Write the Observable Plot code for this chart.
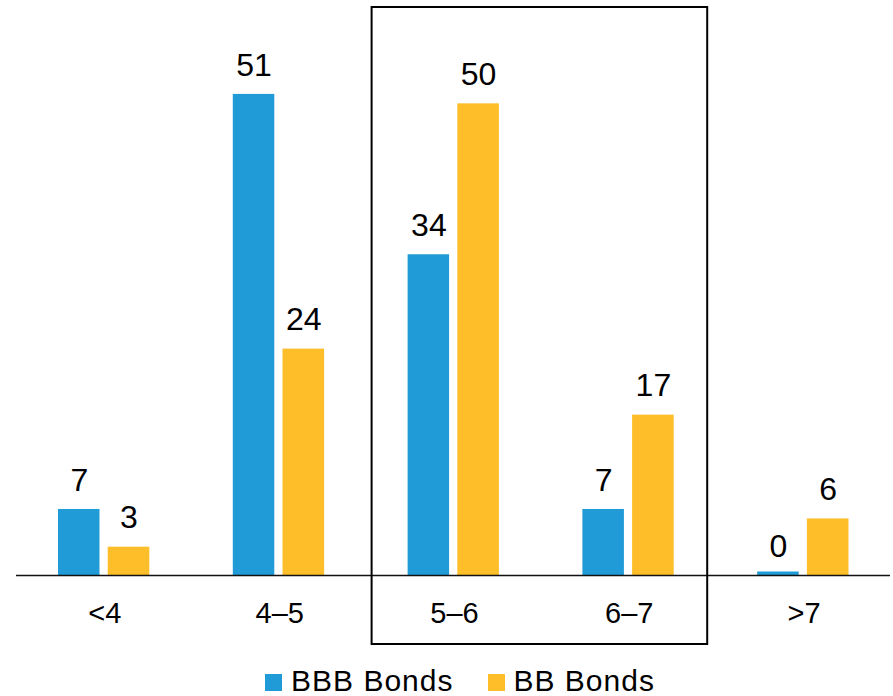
<!DOCTYPE html>
<html><head><meta charset="utf-8">
<script src="https://cdn.jsdelivr.net/npm/d3@7"></script>
<script src="https://cdn.jsdelivr.net/npm/@observablehq/plot@0.6"></script>
<style>
html,body{margin:0;padding:0;background:#fff;overflow:hidden;}
#chart svg{display:block}
.legend{display:flex;justify-content:center;padding-left:27px;gap:34px;font-family:'Liberation Sans',Arial,sans-serif;font-size:30px;letter-spacing:1px;line-height:41px;height:41px;padding-top:5px;color:#000;}
.legend .sw{display:inline-block;width:17px;height:17px;margin-right:9px;}
</style></head><body>
<div id="chart"></div>
<script>
const categories = ["<4", "4–5", "5–6", "6–7", ">7"];
const seriesNames = ["BBB Bonds", "BB Bonds"];
const bbbValues = [7, 51, 34, 7, 0];
const bbValues = [3, 24, 50, 17, 6];
const seriesColors = ["#219bd7", "#fdbe2a"];
const highlighted = ["5–6", "6–7"];

const seriesValues = [bbbValues, bbValues];
const rows = categories.flatMap((c, i) => seriesNames.map((s, j) => ({cat: c, series: s, value: seriesValues[j][i]})));

// per-series placement inside each category band (style insets)
const barStyle = [
  {insetLeft: 42, insetRight: 91.3, dx: -24.6},
  {insetLeft: 91.7, insetRight: 41.5, dx: 25.1}
];

const marks = [];
seriesNames.forEach((s, j) => {
  const sRows = rows.filter(d => d.series === s);
  const st = barStyle[j];
  marks.push(Plot.barY(sRows.filter(d => d.value !== 0), {x: "cat", y: "value", fill: seriesColors[j], insetLeft: st.insetLeft, insetRight: st.insetRight}));
  marks.push(Plot.barY(sRows.filter(d => d.value === 0), {x: "cat", y: "value", fill: seriesColors[j], insetLeft: st.insetLeft, insetRight: st.insetRight, insetTop: -3.5}));
  marks.push(Plot.text(sRows, {x: "cat", y: "value", text: d => String(d.value), dx: st.dx, dy: -29, fontSize: 32, fill: "#000"}));
});
marks.push(Plot.ruleY([0], {stroke: "#111", strokeWidth: 1.5}));
marks.push(Plot.text(categories, {x: d => d, y: () => 0, text: d => d, dx: 1, dy: 38.5, fontSize: 29, fill: "#000", style: "letter-spacing:2.5px"}));
// highlight box around selected categories
marks.push((index, scales, values, dimensions) => {
  const x = scales.x, y = scales.y;
  const bw = x.bandwidth ? x.bandwidth() : 0;
  const x0 = x(highlighted[0]) + 6;
  const x1 = x(highlighted[highlighted.length - 1]) + bw - 8;
  const top = dimensions.marginTop - 2;
  const bottom = y(0) + 69;
  const r = d3.create("svg:rect")
    .attr("x", x0).attr("y", top)
    .attr("width", x1 - x0).attr("height", bottom - top)
    .attr("fill", "none").attr("stroke", "#000").attr("stroke-width", 2);
  return r.node();
});

const chart = Plot.plot({
  width: 893,
  height: 655,
  marginLeft: 16,
  marginRight: 3,
  marginTop: 9,
  marginBottom: 80,
  x: {domain: categories, padding: 0, round: false, axis: null},
  y: {domain: [0, 60], axis: null},
  style: {fontFamily: "'Liberation Sans', Arial, sans-serif", background: "white", overflow: "visible"},
  marks
});
document.getElementById("chart").appendChild(chart);

const legend = document.createElement("div");
legend.className = "legend";
seriesNames.forEach((s, j) => {
  const item = document.createElement("span");
  const sw = document.createElement("span");
  sw.className = "sw";
  sw.style.background = seriesColors[j];
  item.appendChild(sw);
  item.appendChild(document.createTextNode(s));
  legend.appendChild(item);
});
document.body.appendChild(legend);
</script>
</body></html>
